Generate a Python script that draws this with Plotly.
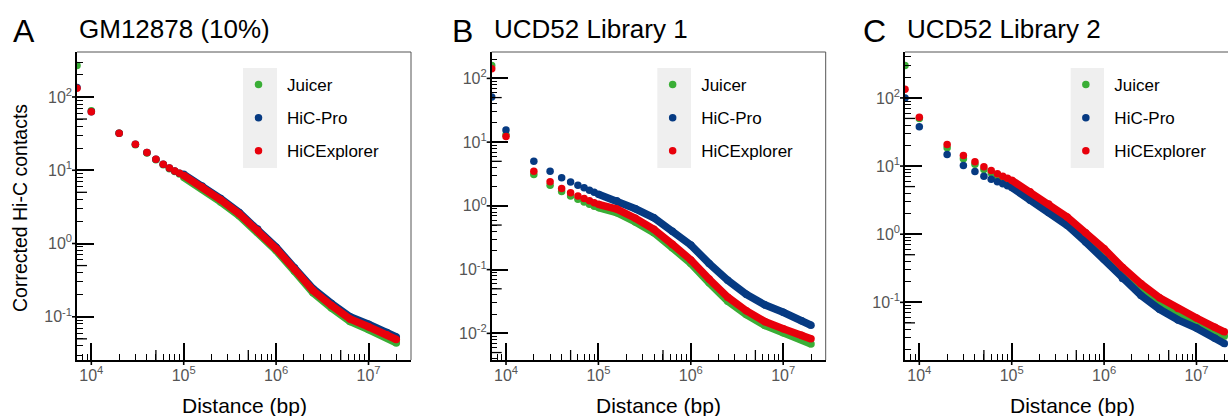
import math
import plotly.graph_objects as go

W, H = 1228, 416
FONT = "Liberation Sans"

# ---------------- data ----------------
distance_bp = [7000, 1e4, 2e4, 3e4, 4e4, 5e4, 6e4, 7e4, 8e4, 9e4, 1e5,
               1.58e5, 2.51e5, 3.98e5, 6.31e5, 1e6, 1.58e6, 2.51e6, 3.98e6,
               6.31e6, 1e7, 1.58e7, 2e7]
dense_start = 10  # from 1e5 on, the 10 kb bins overlap into a continuous band

tools = ["Juicer", "HiC-Pro", "HiCExplorer"]
colors = ["#3aae36", "#063a82", "#e8000b"]

juicer_A = [270, 65, 32, 22.3, 17.2, 13.9, 11.9, 10.5, 9.6, 8.9, 8.0, 5.55, 3.7, 2.4,
            1.43, 0.80, 0.418, 0.213, 0.132, 0.086, 0.067, 0.052, 0.044]
hicpro_A = [135, 63, 32, 22.6, 17.4, 14.1, 12.1, 10.7, 9.8, 9.1, 8.8, 6.1, 4.1, 2.65,
            1.58, 0.89, 0.465, 0.242, 0.152, 0.100, 0.079, 0.061, 0.053]
hicexp_A = [132, 63, 32, 22.6, 17.4, 14.1, 12.1, 10.7, 9.8, 9.1, 8.5, 5.9, 3.95, 2.55,
            1.52, 0.85, 0.445, 0.228, 0.142, 0.093, 0.073, 0.057, 0.049]

juicer_B = [160, 13, 3.1, 2.1, 1.68, 1.43, 1.27, 1.15, 1.06, 0.99, 0.94, 0.78, 0.56, 0.38,
            0.22, 0.125, 0.062, 0.032, 0.0197, 0.0133, 0.0102, 0.0080, 0.0068]
hicpro_B = [51, 15.5, 5.0, 3.5, 2.76, 2.36, 2.1, 1.92, 1.76, 1.63, 1.52, 1.2, 0.90, 0.65,
            0.40, 0.243, 0.125, 0.068, 0.041, 0.028, 0.0214, 0.0158, 0.0134]
hicexp_B = [142, 12.3, 3.5, 2.4, 1.88, 1.61, 1.43, 1.3, 1.2, 1.12, 1.06, 0.89, 0.64, 0.43,
            0.25, 0.142, 0.071, 0.037, 0.0227, 0.0153, 0.0118, 0.0093, 0.0082]

juicer_C = [300, 50, 18.5, 12.8, 10.6, 8.9, 7.9, 7.1, 6.6, 6.1, 5.7, 3.85, 2.55, 1.63,
            0.95, 0.54, 0.29, 0.165, 0.102, 0.071, 0.052, 0.038, 0.032]
hicpro_C = [100, 37.6, 14.8, 10.2, 8.3, 7.1, 6.4, 5.9, 5.5, 5.15, 4.85, 3.16, 2.09, 1.35,
            0.77, 0.43, 0.223, 0.126, 0.079, 0.0553, 0.0419, 0.0298, 0.0249]
hicexp_C = [134, 52, 20.8, 14.3, 11.6, 9.8, 8.6, 7.7, 7.1, 6.6, 6.2, 4.2, 2.77, 1.79,
            1.05, 0.61, 0.326, 0.187, 0.117, 0.081, 0.059, 0.043, 0.037]

panel_letters = ["A", "B", "C"]
panel_titles = ["GM12878 (10%)", "UCD52 Library 1", "UCD52 Library 2"]
panel_series = [[juicer_A, hicpro_A, hicexp_A],
                [juicer_B, hicpro_B, hicexp_B],
                [juicer_C, hicpro_C, hicexp_C]]

x_tick_vals = [1e4, 1e5, 1e6, 1e7]
x_tick_text = ["10<sup>4</sup>", "10<sup>5</sup>", "10<sup>6</sup>", "10<sup>7</sup>"]
y_tick_vals = [1e-2, 1e-1, 1e0, 1e1, 1e2]
y_tick_text = ["10<sup>-2</sup>", "10<sup>-1</sup>", "10<sup>0</sup>", "10<sup>1</sup>", "10<sup>2</sup>"]

x_title = "Distance (bp)"
y_title = "Corrected Hi-C contacts"

# ---------------- layout geometry (pixels) ----------------
TOP, BOT = 52, 360
geom = [
    dict(l=77, r=411, xr=[3.845, 7.46], yr=[-1.59, 2.614], box=(243, 277), lx=24.5, xt=244, right=True),
    dict(l=491.7, r=825.7, xr=[3.845, 7.46], yr=[-2.418, 2.414], box=(657.3, 691), lx=462.5, xt=658.7, right=True),
    dict(l=905, r=1228, xr=[3.845, 7.341], yr=[-1.846, 2.674], box=(1070.7, 1104), lx=874, xt=1072, right=False),
]


def fx(px):
    return px / W


def fy(py):
    return 1 - py / H


decades = list(range(-4, 9))
minor_vals = [d * 10.0 ** e for e in decades for d in [2, 3, 4, 5, 6, 7, 8, 9]]
five_vals = [5 * 10.0 ** e for e in decades]
major_vals = [10.0 ** e for e in decades]

fig = go.Figure()
layout = dict(
    width=W, height=H, margin=dict(l=0, r=0, t=0, b=0),
    paper_bgcolor="white", plot_bgcolor="white",
    font=dict(family=FONT, color="black"),
    showlegend=True, shapes=[], annotations=[],
)

for i, g in enumerate(geom):
    n = i + 1
    xs = "" if n == 1 else str(n)
    xname, yname = "x" + xs, "y" + xs
    legname = "legend" + xs
    for j, tool in enumerate(tools):
        vals = panel_series[i][j]
        fig.add_trace(go.Scatter(
            x=distance_bp[dense_start:], y=vals[dense_start:], mode="lines",
            line=dict(color=colors[j], width=7.5), xaxis=xname, yaxis=yname,
            showlegend=False, hoverinfo="skip", legend=legname))
        fig.add_trace(go.Scatter(
            x=distance_bp, y=vals, mode="markers", name=tool,
            marker=dict(color=colors[j], size=7.5), xaxis=xname, yaxis=yname,
            legend=legname, legendgroup=f"{tool}{n}", showlegend=True))

    right_px = min(g["r"], W)
    dom_x = [fx(g["l"]), fx(right_px)]
    dom_y = [fy(BOT), fy(TOP)]
    minor = dict(tickmode="array", tickvals=minor_vals, ticks="inside", ticklen=6,
                 tickwidth=1.3, tickcolor="black", showgrid=False)
    common = dict(type="log", showgrid=False, zeroline=False, showline=True,
                  linecolor="black", linewidth=1.5, tickmode="array",
                  ticks="inside", ticklen=17, tickwidth=1.6, tickcolor="black",
                  tickfont=dict(family=FONT, size=16, color="#555555"), minor=minor)
    layout["xaxis" + xs] = dict(**common, domain=dom_x, range=g["xr"], anchor=yname,
                                tickvals=x_tick_vals, ticktext=x_tick_text)
    layout["yaxis" + xs] = dict(**common, domain=dom_y, range=g["yr"], anchor=xname,
                                tickvals=y_tick_vals, ticktext=y_tick_text)

    # extra tick decoration: outer stubs of the major ticks, longer ticks at 5 x 10^n
    x0r, x1r = g["xr"]
    y0r, y1r = g["yr"]
    pw = right_px - g["l"]
    sx = (g["r"] - g["l"]) / (x1r - x0r) if g["right"] else pw / (x1r - x0r)
    sy = (BOT - TOP) / (y1r - y0r)
    for tv, a, b, tw in [(major_vals, -5, 0, 1.6), (five_vals, 0, 10, 1.3)]:
        for v in tv:
            lv = math.log10(v)
            if x0r <= lv <= x1r:
                px = g["l"] + (lv - x0r) * sx
                layout["shapes"].append(dict(
                    type="line", xref="paper", yref="paper", x0=fx(px), x1=fx(px),
                    y0=fy(BOT - a), y1=fy(BOT - b), line=dict(color="black", width=tw)))
            if y0r <= lv <= y1r:
                py = BOT - (lv - y0r) * sy
                layout["shapes"].append(dict(
                    type="line", xref="paper", yref="paper", y0=fy(py), y1=fy(py),
                    x0=fx(g["l"] + a), x1=fx(g["l"] + b), line=dict(color="black", width=tw)))

    # frame: thin top & right border
    layout["shapes"].append(dict(type="line", xref=xname + " domain", yref=yname + " domain",
                                 x0=0, x1=1, y0=1, y1=1, line=dict(color="#555555", width=1)))
    if g["right"]:
        layout["shapes"].append(dict(type="line", xref=xname + " domain", yref=yname + " domain",
                                     x0=1, x1=1, y0=0, y1=1, line=dict(color="#555555", width=1)))
    # legend key background
    b0, b1 = g["box"]
    layout["shapes"].append(dict(type="rect", xref="paper", yref="paper",
                                 x0=fx(b0), x1=fx(b1), y0=fy(168), y1=fy(68),
                                 fillcolor="#efefef", line=dict(width=0), layer="below"))
    layout[legname] = dict(
        x=fx(b0 + (b1 - b0) / 2 - 30), y=fy(67), xanchor="left", yanchor="top",
        bgcolor="rgba(0,0,0,0)", font=dict(family=FONT, size=17, color="black"),
        traceorder="grouped", tracegroupgap=8, borderwidth=0, itemwidth=47)

    layout["annotations"] += [
        dict(text=panel_letters[i], x=fx(g["lx"]), y=fy(30.5), xref="paper", yref="paper",
             xanchor="center", yanchor="middle", showarrow=False,
             font=dict(family=FONT, size=32, color="black")),
        dict(text=panel_titles[i], x=fx(g["l"]), y=fy(29), xref="paper", yref="paper",
             xanchor="left", yanchor="middle", showarrow=False,
             font=dict(family=FONT, size=26, color="black")),
        dict(text=x_title, x=fx(g["xt"]), y=fy(405), xref="paper", yref="paper",
             xanchor="center", yanchor="middle", showarrow=False,
             font=dict(family=FONT, size=21, color="black")),
    ]

layout["annotations"].append(
    dict(text=y_title, x=fx(20), y=fy(208), xref="paper", yref="paper", textangle=-90,
         xanchor="center", yanchor="middle", showarrow=False,
         font=dict(family=FONT, size=19.5, color="black")))

fig.update_layout(**layout)
fig.write_html("out.html", config={"displayModeBar": False},
               post_script="document.body.style.margin='0px';")
